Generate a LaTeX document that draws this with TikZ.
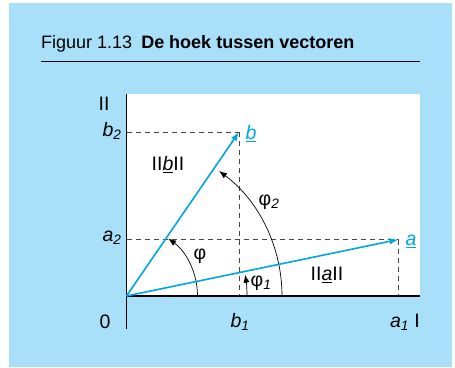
\documentclass[tikz,border=0pt]{standalone}
\usepackage{fontspec}
\setmainfont{Liberation Sans}
\usetikzlibrary{arrows.meta}
\definecolor{bgblue}{RGB}{168,223,249}
\definecolor{vecblue}{RGB}{0,166,228}
\definecolor{dashgray}{RGB}{70,70,70}
\tikzset{
  vec/.style={draw=vecblue, line width=1.6pt, -{Latex[length=9pt,width=6.5pt]}},
  anglearc/.style={draw=black, line width=0.7pt, -{Latex[length=8pt,width=6pt]}},
  helper/.style={draw=dashgray, line width=0.8pt, dash pattern=on 5pt off 4pt},
  axis/.style={draw=black, line width=1.4pt},
  lbl/.style={font=\fontsize{19.5}{21}\selectfont, inner sep=0pt},
  blbl/.style={lbl, text=vecblue},
}
\begin{document}
\begin{tikzpicture}[x=1pt,y=-1pt]
\useasboundingbox (0,0) rectangle (455,367);
\fill[bgblue] (9,3) rectangle (452,367);
\fill[white] (126.5,94) rectangle (420,296);
% title
\node[anchor=base west, inner sep=0pt, font=\fontsize{18}{20}\selectfont] (title) at (41,48) {Figuur 1.13\enspace\textbf{De hoek tussen vectoren}};
\coordinate (r1) at (41,61.5);
\coordinate (r2) at (420,61.5);
\draw[line width=1.3pt] (r1) -- (r2);
% points
\coordinate (O) at (126.5,296);
\coordinate (A) at (398.5,239.5);
\coordinate (B) at (239,132);
\coordinate (ytop) at (126.5,94);
\coordinate (ybot) at (126.5,329);
\coordinate (xend) at (420,296);
% helper dashed lines
\draw[helper] (O |- A) -- (A);
\draw[helper] (A) -- (A |- O);
\draw[helper] (O |- B) -- (B);
\draw[helper] (B) -- (B |- O);
% axes
\draw[axis] (ytop) -- (ybot);
\draw[axis] (O) -- (xend);
% angle arcs
\draw[anglearc] (O) ++(71,0) arc[start angle=0, end angle=-54, radius=71];
\draw[anglearc] (O) ++(120.5,0) arc[start angle=0, end angle=-10.2, radius=120.5];
\draw[anglearc] (O) ++(155.5,0) arc[start angle=0, end angle=-53.5, radius=155.5];
% vectors
\draw[vec] (O) -- (A);
\draw[vec] (O) -- (B);
% labels
\node[lbl] (lII) at (104,104) {II};
\node[lbl] (lb2) at (112,131) {\itshape b\textsubscript{2}};
\node[lbl] (la2) at (112,238) {\itshape a\textsubscript{2}};
\node[lbl] (l0) at (105,322) {0};
\node[lbl] (lb1) at (240,322) {\itshape b\textsubscript{1}};
\node[lbl] (la1) at (405,322) {\itshape a\textsubscript{1}\upshape\ I};
\node[lbl] (lnb) at (168,165) {II\underline{\itshape b}II};
\node[lbl] (lna) at (327,275) {II\underline{\itshape a}II};
\node[lbl] (lphi) at (200,256) {φ};
\node[lbl] (lphi1) at (261,283) {φ\textsubscript{\itshape 1}};
\node[lbl] (lphi2) at (269,202) {φ\textsubscript{\itshape 2}};
\node[blbl] (la) at (411,241) {\underline{\itshape a}};
\node[blbl] (lb) at (251,134) {\underline{\itshape b}};
\end{tikzpicture}
\end{document}
